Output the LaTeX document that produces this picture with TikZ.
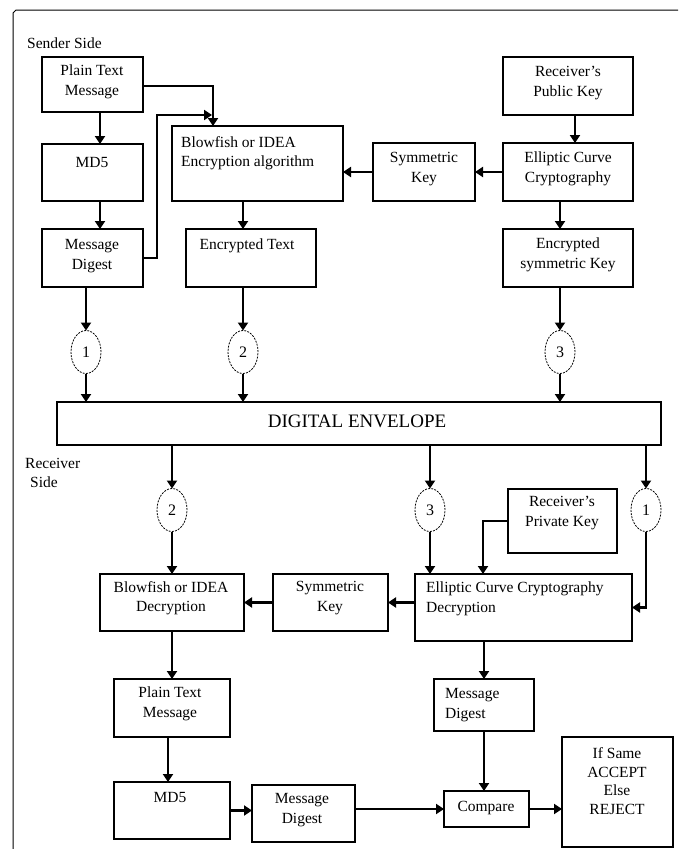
\documentclass[tikz,border=0pt]{standalone}
\usepackage{fontspec}
\setmainfont{Liberation Serif}
\usetikzlibrary{arrows.meta,shapes.geometric}
\newcommand\bx[5]{\node[box, minimum width={(#4-#2)*1pt}, minimum height={(#5-#3)*1pt}] (#1) at ({(#2+#4)/2},{(#3+#5)/2}) {};}
\begin{document}
\begin{tikzpicture}[x=1pt,y=-1pt,
  box/.style={draw, line width=1.1pt, inner sep=0pt, outer sep=0pt},
  oval/.style={draw, ellipse, line width=0.8pt, dash pattern=on 2pt off 1.2pt, minimum width=30pt, minimum height=43pt, inner sep=0pt, outer sep=0pt, font=\fontsize{16}{18}\selectfont},
  arr/.style={line width=2.4pt, -{Triangle[length=8pt,width=10pt]}},
  lbl/.style={align=center, inner sep=0pt, font=\fontsize{15.5}{19.5}\selectfont},
  lbll/.style={align=left, anchor=west, inner sep=0pt, font=\fontsize{15.5}{19.5}\selectfont}]
\useasboundingbox (0,0) rectangle (678,849);
% frame
\draw[line width=1pt] (13,849) -- (13,13) -- (16,10) -- (678,10);
\node[lbll] (sender) at (27,43) {Sender Side};
\node[lbll] (receiver) at (25,473) {Receiver\\\hspace{5pt}Side};
% sender boxes
\bx{pt1}{42}{57}{143}{112}
\node[lbl] (pt1t) at (92,82) {Plain Text\\Message};
\bx{md51}{42}{144}{143}{201}
\node[lbl] (md51t) at (92,162) {MD5};
\bx{mdg1}{42}{229}{143}{287}
\node[lbl] (mdg1t) at (92,256) {Message\\Digest};
\bx{bf1}{172}{126}{343}{201}
\node[lbll] (bf1t) at (181,153) {Blowfish or IDEA\\Encryption algorithm};
\bx{et}{186}{229}{316}{287}
\node[lbl] (ett) at (247,246) {Encrypted Text};
\bx{pk}{503}{57}{633}{115}
\node[lbl] (pkt) at (568,83) {Receiver's\\Public Key};
\bx{ecc1}{503}{143}{633}{201}
\node[lbl] (ecc1t) at (568,169) {Elliptic Curve\\Cryptography};
\bx{sk1}{373}{143}{475}{201}
\node[lbl] (sk1t) at (424,169) {Symmetric\\Key};
\bx{esk}{503}{229}{633}{287}
\node[lbl] (eskt) at (568,255) {Encrypted\\symmetric Key};
% ovals sender
\node[oval] (o1) at (86,352) {1};
\node[oval] (o2) at (243,352) {2};
\node[oval] (o3) at (560,352) {3};
% envelope
\bx{env}{57}{402}{661}{445}
\node[inner sep=0pt, font=\fontsize{19}{22}\selectfont] (envt) at (357,421) {DIGITAL ENVELOPE};
% receiver ovals
\node[oval] (o2r) at (172,510) {2};
\node[oval] (o3r) at (430,510) {3};
\node[oval] (o1r) at (646,510) {1};
% receiver boxes
\bx{prk}{508}{489}{617}{553}
\node[lbl] (prkt) at (562,513) {Receiver's\\Private Key};
\bx{bfd}{100}{574}{244}{631}
\node[lbl] (bfdt) at (171,598) {Blowfish or IDEA\\Decryption};
\bx{skr}{273}{574}{388}{631}
\node[lbl] (skrt) at (330,598) {Symmetric\\Key};
\bx{eccd}{415}{574}{632}{641}
\node[lbll] (eccdt) at (426,599) {Elliptic Curve Cryptography\\Decryption};
\bx{ptr}{114}{679}{230}{737}
\node[lbl] (ptrt) at (170,704) {Plain Text\\Message};
\bx{md5r}{114}{782}{230}{839}
\node[lbl] (md5rt) at (170,797) {MD5};
\bx{mdgr}{252}{785}{355}{842}
\node[lbl] (mdgrt) at (302,810) {Message\\Digest};
\bx{mdgr2}{434}{679}{534}{731}
\node[lbll] (mdgr2t) at (445,705) {Message\\Digest};
\bx{cmp}{444}{791}{529}{827}
\node[lbl] (cmpt) at (486,808) {Compare};
\bx{ifs}{562}{737}{673}{847}
\node[lbl, font=\fontsize{15.5}{18.5}\selectfont] (ifst) at (617,781) {If Same\\ACCEPT\\Else\\REJECT};
% sender arrows
\draw[arr] ([xshift=7.5pt]pt1.south) -- ([xshift=7.5pt]md51.north);
\draw[arr] ([xshift=7.5pt]md51.south) -- ([xshift=7.5pt]mdg1.north);
\draw[arr] ([yshift=-1.5pt]pt1.east) -| ([xshift=-44.5pt]bf1.north);
\draw[arr] (mdg1.east) -- ++(14,0) |- ([xshift=-45.5pt,yshift=11pt]bf1.north);
\draw[arr] ([xshift=7pt]pk.south) -- ([xshift=7pt]ecc1.north);
\draw[arr] (ecc1.west) -- (sk1.east);
\draw[arr] (sk1.west) -- (sk1.west -| bf1.east);
\draw[arr] (ecc1.south -| o3) -- (esk.north -| o3);
\draw[arr] (bf1.south -| o2) -- (et.north -| o2);
\draw[arr] (mdg1.south -| o1) -- (o1.north);
\draw[arr] (et.south -| o2) -- (o2.north);
\draw[arr] (esk.south -| o3) -- (o3.north);
\draw[arr] (o1.south) -- (env.north -| o1);
\draw[arr] (o2.south) -- (env.north -| o2);
\draw[arr] (o3.south) -- (env.north -| o3);
% receiver arrows
\draw[arr] (env.south -| o2r) -- (o2r.north);
\draw[arr] (env.south -| o3r) -- (o3r.north);
\draw[arr] (env.south -| o1r) -- (o1r.north);
\draw[arr] (o2r.south) -- (bfd.north -| o2r);
\draw[arr] (o3r.south) -- (eccd.north -| o3r);
\draw[arr] (o1r.south) |- (eccd.east);
\draw[arr] (prk.west) -| ([xshift=-40.5pt]eccd.north);
\draw[arr] (skr.east -| eccd.west) -- (skr.east);
\draw[arr] (skr.west) -- (skr.west -| bfd.east);
\draw[arr] (bfd.south -| o2r) -- (ptr.north -| o2r);
\draw[arr] ([xshift=-4pt]ptr.south) -- ([xshift=-4pt]md5r.north);
\draw[arr] (md5r.east) -- (md5r.east -| mdgr.west);
\draw[arr] (cmp.west -| mdgr.east) -- (cmp.west);
\draw[arr] (cmp.east) -- (cmp.east -| ifs.west);
\draw[arr] (eccd.south -| mdgr2) -- (mdgr2.north);
\draw[arr] (mdgr2.south) -- (cmp.north -| mdgr2);
\end{tikzpicture}
\end{document}
